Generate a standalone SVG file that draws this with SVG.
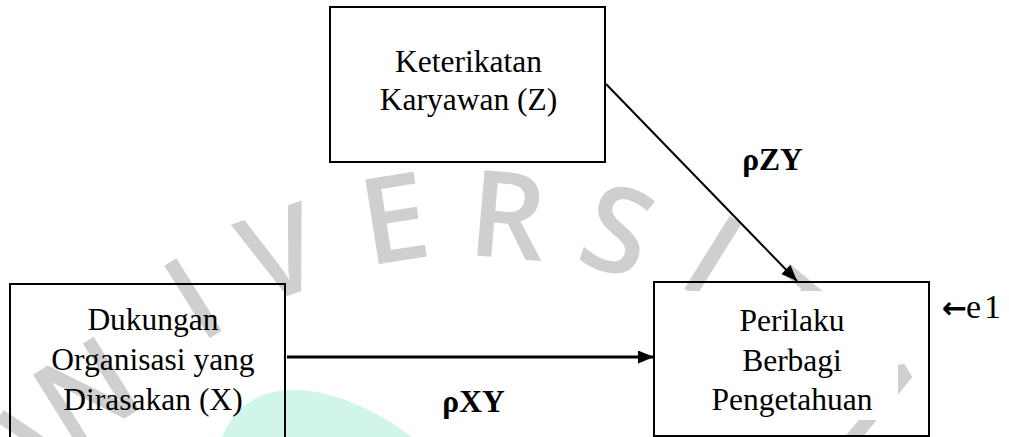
<svg xmlns="http://www.w3.org/2000/svg" width="1009" height="437" viewBox="0 0 1009 437">
  <style>
    .box { fill: none; stroke: #000; stroke-width: 2; }
    .label { font-family: "Liberation Serif", "Times New Roman", serif; font-size: 31.5px; fill: #000; text-anchor: middle; }
    .coef { font-family: "Liberation Serif", "Times New Roman", serif; font-size: 31.5px; font-weight: bold; fill: #000; text-anchor: middle; }
    .err { font-family: "Liberation Serif", "Times New Roman", serif; font-size: 34px; letter-spacing: 3px; fill: #000; }
    .err-arrow { font-family: "DejaVu Sans", sans-serif; font-size: 30px; font-weight: bold; fill: #000; }
    .edge { fill: none; stroke: #000; }
    .wm { font-family: "Open Sans", "DejaVu Sans", sans-serif; font-size: 120px; font-weight: 600; fill: #cfcfcf; text-anchor: middle; }
  </style>
  <defs>
    <marker id="head" markerUnits="userSpaceOnUse" markerWidth="17" markerHeight="14" refX="16" refY="6.5" orient="auto">
      <path d="M0,0 L16,6.5 L0,13 Z" fill="#000"/>
    </marker>
  </defs>

  <rect width="1009" height="437" fill="#fff"/>

  <!-- background mark: mint arc and lettering along a curve -->
  <g id="background-mark">
    <path d="M222,437 C238,400 266,389 298,390 C340,392 382,414 412,437 Z" fill="#d2f5ea"/>
    <text class="wm" transform="translate(20,462) rotate(-56)" y="43">U</text>
    <text class="wm" transform="translate(86,392) rotate(-32)" y="43">N</text>
    <text class="wm" transform="translate(193,298) rotate(-32)" y="43">I</text>
    <text class="wm" transform="translate(280,253) rotate(-19)" y="43">V</text>
    <text class="wm" transform="translate(394,218) rotate(-9)" y="43">E</text>
    <text class="wm" transform="translate(508,215) rotate(5)" y="43">R</text>
    <text class="wm" transform="translate(618,230) rotate(18)" y="43">S</text>
    <text class="wm" transform="translate(713,256) rotate(32)" y="43">I</text>
    <text class="wm" transform="translate(787,317) rotate(40)" y="43">T</text>
    <text class="wm" transform="translate(871,392) rotate(60)" y="43">A</text>
  </g>

  <g id="node-z">
    <rect class="box" x="330" y="7" width="275" height="155"/>
    <text class="label" x="468.5" y="72">Keterikatan</text>
    <text class="label" x="468.5" y="110">Karyawan (Z)</text>
  </g>

  <g id="node-x">
    <rect class="box" x="10" y="284" width="275" height="165"/>
    <text class="label" x="153" y="329.5">Dukungan</text>
    <text class="label" x="153" y="369.5">Organisasi yang</text>
    <text class="label" x="153" y="409.5">Dirasakan (X)</text>
  </g>

  <g id="node-y">
    <!-- paragraph backing behind the label lines -->
    <rect x="655" y="291" width="243" height="129" fill="#fff"/>
    <rect class="box" x="654" y="282" width="275" height="154"/>
    <text class="label" x="792" y="331">Perilaku</text>
    <text class="label" x="792" y="370.5">Berbagi</text>
    <text class="label" x="792" y="409.5">Pengetahuan</text>
  </g>

  <g id="error-term">
    <text x="942" y="318"><tspan class="err-arrow">←</tspan><tspan class="err" x="966">e1</tspan></text>
  </g>

  <g id="connectors">
    <line class="edge" x1="606" y1="84" x2="797" y2="281" stroke-width="2" marker-end="url(#head)"/>
    <line class="edge" x1="287" y1="357" x2="654" y2="357" stroke-width="3" marker-end="url(#head)"/>
    <text class="coef" x="772.5" y="170">ρZY</text>
    <text class="coef" x="473.5" y="412">ρXY</text>
  </g>
</svg>
